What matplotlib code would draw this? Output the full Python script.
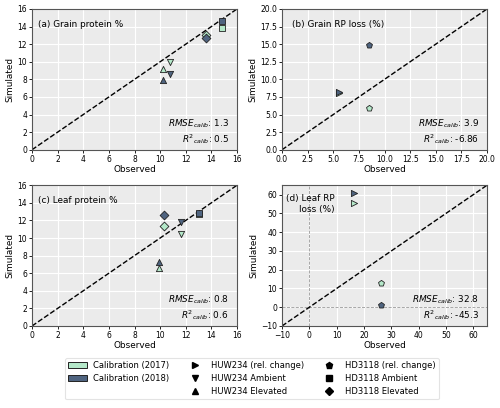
import matplotlib
matplotlib.use("Agg")
import matplotlib.pyplot as plt
from matplotlib.patches import Patch
from matplotlib.lines import Line2D

c17 = "#b4e8c9"
c18 = "#4f6480"

# Panel (a) Grain protein %: (marker, year, obs, sim)
a_pts = [("s", 2017, 14.8, 13.8), ("s", 2018, 14.8, 14.6),
         ("D", 2017, 13.6, 13.0), ("D", 2018, 13.6, 12.7),
         ("v", 2017, 10.8, 10.0), ("v", 2018, 10.8, 8.6),
         ("^", 2017, 10.2, 9.2), ("^", 2018, 10.2, 7.9)]
b_pts = [("p", 2018, 8.5, 14.9), ("p", 2017, 8.5, 5.9),
         (">", 2017, 5.6, 8.1), (">", 2018, 5.6, 8.2)]
c_pts = [("D", 2018, 10.3, 12.6), ("D", 2017, 10.3, 11.4),
         ("v", 2018, 11.6, 11.8), ("v", 2017, 11.6, 10.4),
         ("s", 2017, 13.0, 12.7), ("s", 2018, 13.0, 12.8),
         ("^", 2017, 9.9, 6.6), ("^", 2018, 9.9, 7.3)]
d_pts = [(">", 2018, 16.5, 61.0), (">", 2017, 16.5, 55.5),
         ("p", 2017, 26.3, 12.8), ("p", 2018, 26.3, 1.2)]

titles = ["(a) Grain protein %", "(b) Grain RP loss (%)", "(c) Leaf protein %", "(d) Leaf RP\nloss (%)"]
rmse = ["1.3", "3.9", "0.8", "32.8"]
r2 = ["0.5", "-6.86", "0.6", "-45.3"]
lims = [(0, 16), (0, 20), (0, 16), (-10, 65)]
ticks = [list(range(0, 17, 2)), [0, 2.5, 5, 7.5, 10, 12.5, 15, 17.5, 20], list(range(0, 17, 2)), list(range(-10, 61, 10))]
ticklabels = [[str(t) for t in ticks[0]], ["%.1f" % t for t in ticks[1]], [str(t) for t in ticks[2]],
              ["\u221210" if t < 0 else str(t) for t in ticks[3]]]
data = [a_pts, b_pts, c_pts, d_pts]

fig = plt.figure(figsize=(5, 4.08), dpi=100)
positions = [(0.064, 0.633, 0.41, 0.345), (0.564, 0.633, 0.41, 0.345),
             (0.064, 0.201, 0.41, 0.345), (0.564, 0.201, 0.41, 0.345)]

for i in range(4):
    ax = fig.add_axes(positions[i])
    ax.set_facecolor("#ebebeb")
    ax.grid(True, color="white", linewidth=0.8)
    ax.set_axisbelow(True)
    for s in ax.spines.values():
        s.set_color("#555555")
        s.set_linewidth(0.8)
    lo, hi = lims[i]
    ax.set_xlim(lo, hi)
    ax.set_ylim(lo, hi)
    ax.plot([lo, hi], [lo, hi], "k--", lw=1.0, zorder=2)
    if i == 3:
        ax.axhline(0, color="#999999", ls="--", lw=0.6, zorder=1)
        ax.axvline(0, color="#999999", ls="--", lw=0.6, zorder=1)
    for m, yr, x, y in data[i]:
        ax.scatter([x], [y], marker=m, s=20, facecolor=c17 if yr == 2017 else c18,
                   edgecolor="#222222", linewidth=0.6, zorder=3)
    ax.set_xticks(ticks[i])
    ax.set_yticks(ticks[i])
    ax.set_xticklabels(ticklabels[i])
    ax.set_yticklabels(ticklabels[i])
    ax.tick_params(labelsize=5.5, length=2, width=0.6, pad=1.5)
    ax.set_xlabel("Observed", fontsize=6.4, labelpad=1)
    ax.set_ylabel("Simulated", fontsize=6.4, labelpad=2)
    if i == 3:
        ax.text(0.255, 0.94, titles[i], transform=ax.transAxes, fontsize=6.4,
                va="top", ha="right", multialignment="right", linespacing=1.3)
    else:
        ax.text(0.03 if i != 1 else 0.05, 0.92, titles[i], transform=ax.transAxes,
                fontsize=6.4, va="top", ha="left")
    ax.text(0.96, 0.025, "$RMSE_{calib}$: " + rmse[i] + "\n" + "$R^{2}{}_{calib}$: " + r2[i],
            transform=ax.transAxes, fontsize=6.4, ha="right", va="bottom",
            multialignment="right", linespacing=1.25)

handles = [Patch(facecolor=c17, edgecolor="#222222", linewidth=0.7, label="Calibration (2017)"),
           Patch(facecolor=c18, edgecolor="#222222", linewidth=0.7, label="Calibration (2018)"),
           Line2D([], [], ls="", marker="", label=" "),
           Line2D([], [], ls="", marker=">", color="black", markersize=5, label="HUW234 (rel. change)"),
           Line2D([], [], ls="", marker="v", color="black", markersize=5, label="HUW234 Ambient"),
           Line2D([], [], ls="", marker="^", color="black", markersize=5, label="HUW234 Elevated"),
           Line2D([], [], ls="", marker="p", color="black", markersize=4.5, label="HD3118 (rel. change)"),
           Line2D([], [], ls="", marker="s", color="black", markersize=4.2, label="HD3118 Ambient"),
           Line2D([], [], ls="", marker="D", color="black", markersize=4.2, label="HD3118 Elevated")]
leg = fig.legend(handles=handles, ncol=3, loc="upper left", bbox_to_anchor=(0.13, 0.1225),
                 fontsize=6.0, frameon=True, handlelength=2.3, columnspacing=1.9,
                 labelspacing=0.5, borderpad=0.35, handletextpad=0.75, borderaxespad=0)
leg.get_frame().set_edgecolor("#dddddd")
leg.get_frame().set_linewidth(0.8)

fig.savefig("out.png", dpi=100)
